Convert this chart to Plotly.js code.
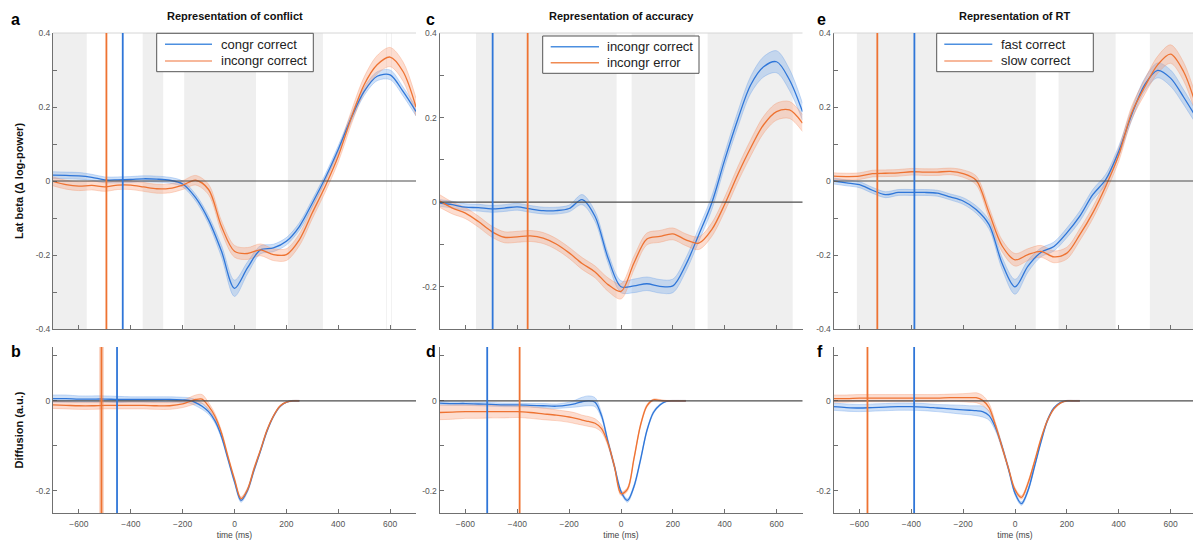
<!DOCTYPE html>
<html>
<head>
<meta charset="utf-8">
<script src="https://cdn.plot.ly/plotly-3.0.1.min.js"></script>
<style>
  html, body { margin: 0; padding: 0; overflow: hidden; background: #fff; }
  #chart { width: 1197px; height: 540px; }
</style>
</head>
<body>
<div id="chart"></div>
<script>
// ---------- time axes (ms, relative to response) ----------
const timeTop = [-700,-650,-600,-550,-500,-450,-400,-350,-300,-250,-200,-150,-100,-50,0,50,100,150,200,250,300,350,400,450,500,550,600,650,700];
const timeBottom = [-700,-650,-600,-550,-500,-450,-400,-350,-300,-250,-200,-175,-150,-125,-100,-75,-50,-25,0,25,50,75,100,125,150,175,200,225,250];

// ---------- a: lateralised beta, conflict ----------
const betaCongrCorrect   = [0.016,0.015,0.014,0.010,0.003,0.003,0.004,0.006,0.005,0.002,-0.008,-0.045,-0.105,-0.19,-0.29,-0.235,-0.186,-0.181,-0.163,-0.123,-0.06,0.008,0.085,0.17,0.242,0.283,0.287,0.242,0.188];
const betaCongrCorrectSe = [0.009,0.009,0.009,0.008,0.008,0.008,0.008,0.008,0.008,0.008,0.008,0.009,0.011,0.016,0.022,0.016,0.011,0.01,0.01,0.01,0.01,0.01,0.01,0.01,0.011,0.012,0.013,0.012,0.012];
const betaIncongrCorrect   = [-0.001,-0.01,-0.014,-0.012,-0.016,-0.011,-0.011,-0.016,-0.021,-0.02,-0.011,0.002,-0.023,-0.123,-0.19,-0.196,-0.186,-0.199,-0.199,-0.159,-0.086,-0.014,0.067,0.17,0.26,0.314,0.335,0.296,0.2];
const betaIncongrCorrectSe = [0.012,0.012,0.012,0.012,0.012,0.012,0.012,0.012,0.012,0.012,0.012,0.013,0.014,0.015,0.016,0.016,0.016,0.016,0.016,0.016,0.016,0.016,0.016,0.018,0.021,0.025,0.026,0.026,0.024];

// ---------- c: lateralised beta, accuracy ----------
const betaAccCorrect   = [-0.002,-0.006,-0.012,-0.013,-0.016,-0.014,-0.011,-0.016,-0.02,-0.02,-0.015,0.006,-0.034,-0.132,-0.2,-0.198,-0.193,-0.199,-0.198,-0.148,-0.077,-0.002,0.1,0.195,0.277,0.32,0.332,0.289,0.214];
const betaAccCorrectSe = [0.008,0.008,0.008,0.008,0.008,0.008,0.008,0.008,0.008,0.008,0.008,0.012,0.012,0.012,0.014,0.016,0.016,0.016,0.016,0.016,0.016,0.016,0.016,0.018,0.02,0.024,0.026,0.025,0.02];
const betaAccError   = [0.003,-0.014,-0.026,-0.046,-0.069,-0.083,-0.082,-0.08,-0.085,-0.099,-0.12,-0.145,-0.165,-0.195,-0.211,-0.144,-0.087,-0.081,-0.075,-0.089,-0.097,-0.065,-0.005,0.065,0.128,0.183,0.214,0.218,0.187];
const betaAccErrorSe = [0.015,0.014,0.013,0.013,0.013,0.013,0.013,0.013,0.013,0.013,0.013,0.014,0.014,0.016,0.018,0.016,0.014,0.014,0.014,0.014,0.015,0.016,0.017,0.018,0.019,0.02,0.02,0.02,0.02];

// ---------- e: lateralised beta, RT ----------
const betaFast   = [0.0,-0.005,-0.01,-0.025,-0.037,-0.031,-0.031,-0.031,-0.033,-0.043,-0.054,-0.077,-0.118,-0.222,-0.286,-0.23,-0.193,-0.177,-0.14,-0.095,-0.037,0.004,0.08,0.179,0.26,0.299,0.278,0.227,0.17];
const betaFastSe = [0.008,0.008,0.008,0.008,0.008,0.008,0.008,0.008,0.008,0.008,0.009,0.01,0.012,0.016,0.02,0.016,0.012,0.012,0.013,0.014,0.014,0.014,0.014,0.015,0.017,0.02,0.022,0.02,0.018];
const betaSlow   = [0.013,0.012,0.013,0.02,0.021,0.022,0.025,0.024,0.024,0.026,0.02,0.002,-0.086,-0.175,-0.213,-0.199,-0.19,-0.205,-0.195,-0.145,-0.086,-0.014,0.07,0.184,0.254,0.314,0.343,0.296,0.2];
const betaSlowSe = [0.009,0.009,0.009,0.009,0.009,0.009,0.009,0.009,0.009,0.009,0.01,0.012,0.014,0.016,0.017,0.016,0.016,0.016,0.016,0.016,0.016,0.016,0.017,0.018,0.02,0.023,0.025,0.025,0.024];

// ---------- b: diffusion, conflict ----------
const diffCongrCorrect   = [0.005,0.005,0.004,0.004,0.004,0.003,0.003,0.003,0.003,0.003,0.002,0.001,-0.004,-0.012,-0.024,-0.045,-0.08,-0.13,-0.18,-0.222,-0.2,-0.155,-0.112,-0.068,-0.035,-0.013,-0.003,0,0];
const diffCongrCorrectSe = [0.008,0.008,0.007,0.007,0.007,0.007,0.006,0.006,0.006,0.006,0.006,0.006,0.007,0.007,0.006,0.005,0.004,0.004,0.004,0.004,0.004,0.004,0.003,0.003,0.002,0.002,0.001,0.001,0.001];
const diffIncongrCorrect   = [-0.009,-0.01,-0.011,-0.011,-0.01,-0.01,-0.01,-0.01,-0.011,-0.011,-0.007,-0.002,0.003,0.004,-0.012,-0.035,-0.072,-0.125,-0.175,-0.218,-0.198,-0.152,-0.11,-0.066,-0.034,-0.012,-0.003,0,0];
const diffIncongrCorrectSe = [0.008,0.008,0.008,0.008,0.008,0.008,0.008,0.008,0.008,0.008,0.008,0.009,0.01,0.01,0.008,0.006,0.005,0.004,0.004,0.004,0.004,0.004,0.003,0.003,0.002,0.002,0.001,0.001,0.001];

// ---------- d: diffusion, accuracy ----------
const diffAccCorrect   = [-0.005,-0.006,-0.006,-0.007,-0.008,-0.009,-0.009,-0.01,-0.011,-0.012,-0.009,-0.006,-0.002,0.0,-0.003,-0.033,-0.092,-0.147,-0.202,-0.222,-0.191,-0.132,-0.066,-0.026,-0.009,-0.001,0,0,0];
const diffAccCorrectSe = [0.004,0.004,0.004,0.004,0.004,0.004,0.004,0.004,0.005,0.005,0.006,0.008,0.01,0.011,0.01,0.006,0.005,0.004,0.004,0.004,0.004,0.004,0.003,0.003,0.002,0.001,0.001,0.001,0.001];
const diffAccError   = [-0.026,-0.025,-0.024,-0.024,-0.024,-0.024,-0.024,-0.026,-0.029,-0.032,-0.036,-0.039,-0.043,-0.046,-0.05,-0.062,-0.095,-0.147,-0.207,-0.197,-0.129,-0.055,-0.011,0.002,0.001,0,0,0,0];
const diffAccErrorSe = [0.016,0.016,0.015,0.015,0.014,0.014,0.013,0.013,0.013,0.012,0.012,0.012,0.011,0.011,0.01,0.008,0.006,0.005,0.004,0.004,0.004,0.003,0.003,0.002,0.002,0.001,0.001,0.001,0.001];

// ---------- f: diffusion, RT ----------
const diffFast   = [-0.013,-0.015,-0.016,-0.015,-0.014,-0.013,-0.013,-0.014,-0.016,-0.018,-0.02,-0.021,-0.022,-0.024,-0.033,-0.06,-0.102,-0.152,-0.206,-0.229,-0.2,-0.147,-0.092,-0.044,-0.016,-0.004,0,0,0];
const diffFastSe = [0.008,0.008,0.008,0.008,0.008,0.008,0.008,0.008,0.008,0.009,0.01,0.01,0.011,0.012,0.01,0.007,0.005,0.004,0.004,0.004,0.004,0.004,0.003,0.003,0.002,0.001,0.001,0.001,0.001];
const diffSlow   = [0.005,0.005,0.006,0.006,0.006,0.006,0.006,0.006,0.006,0.007,0.007,0.007,0.007,0.001,-0.015,-0.055,-0.103,-0.151,-0.198,-0.215,-0.184,-0.136,-0.085,-0.044,-0.018,-0.005,0,0,0];
const diffSlowSe = [0.008,0.008,0.008,0.008,0.008,0.008,0.008,0.008,0.008,0.008,0.009,0.01,0.011,0.011,0.009,0.006,0.005,0.004,0.004,0.004,0.004,0.004,0.003,0.003,0.002,0.001,0.001,0.001,0.001];

// ---------- significant time windows (ms) ----------
const sigConflict = [[-700,-570],[-354,-275],[-194,83],[206,341],[585,588],[604,607]];
const sigAccuracy = [[-559,-17],[41,286],[334,662]];
const sigRT       = [[-610,80],[168,388],[520,700]];

// ---------- mean response-time markers (ms): [blue condition, orange condition] ----------
const markA = [-431, -494];
const markB = [-453, -513];
const markC = [-495, -360];
const markD = [-516, -391];
const markE = [-388, -531];
const markF = [-389, -569];

// ---------- labels ----------
const panelTitles = ['Representation of conflict', 'Representation of accuracy', 'Representation of RT'];
const legendNames = [['congr correct', 'incongr correct'], ['incongr correct', 'incongr error'], ['fast correct', 'slow correct']];
const panelLetters = ['a', 'c', 'e', 'b', 'd', 'f'];
const topTickVals = [-0.4,-0.3,-0.2,-0.1,0,0.1,0.2,0.3,0.4];
const topTickText = ['-0.4','','-0.2','','0','','0.2','','0.4'];
const accTickVals = [-0.3,-0.2,-0.1,0,0.1,0.2,0.3,0.4];
const accTickText = ['','-0.2','','0','','0.2','','0.4'];
const botTickVals = [-0.2,-0.1,0,0.1];
const botTickText = ['-0.2','','0',''];
const timeTickVals = [-600,-400,-200,0,200,400,600];

// ---------- styling ----------
const W = 1197, H = 540;
const FONT = 'Liberation Sans, Arial, Helvetica, sans-serif';
const BLUE = '#2f76d8', ORANGE = '#ee7332';
const BLUE_FILL = 'rgba(96,155,232,0.30)', ORANGE_FILL = 'rgba(248,150,108,0.32)';
const BLUE_EDGE = 'rgba(96,155,232,0.55)', ORANGE_EDGE = 'rgba(245,140,95,0.55)';
const px = v => v / W;
const py = v => 1 - v / H;

const colsPx = [[53, 416], [439.5, 802.5], [833.5, 1196.5]];
const topPx = [33, 329], botPx = [347, 513];

const traces = [];
function bandTraces(t, m, se, n, fill, edge) {
  const up = m.map((v, i) => v + se[i]);
  const lo = m.map((v, i) => v - se[i]);
  const ax = n === 1 ? '' : String(n);
  const line = { color: edge, width: 0.6, shape: 'spline', smoothing: 0.9 };
  traces.push({ x: t, y: up, xaxis: 'x' + ax, yaxis: 'y' + ax, mode: 'lines', line, hoverinfo: 'skip', showlegend: false });
  traces.push({ x: t, y: lo, xaxis: 'x' + ax, yaxis: 'y' + ax, mode: 'lines', line, fill: 'tonexty', fillcolor: fill, hoverinfo: 'skip', showlegend: false });
}
function meanTrace(t, m, n, color, name) {
  const ax = n === 1 ? '' : String(n);
  traces.push({ x: t, y: m, xaxis: 'x' + ax, yaxis: 'y' + ax, mode: 'lines', name,
    line: { color, width: 1.3, shape: 'spline', smoothing: 0.9 }, showlegend: false });
}

const series = [
  [1, timeTop, betaCongrCorrect, betaCongrCorrectSe, betaIncongrCorrect, betaIncongrCorrectSe, legendNames[0]],
  [2, timeTop, betaAccCorrect, betaAccCorrectSe, betaAccError, betaAccErrorSe, legendNames[1]],
  [3, timeTop, betaFast, betaFastSe, betaSlow, betaSlowSe, legendNames[2]],
  [4, timeBottom, diffCongrCorrect, diffCongrCorrectSe, diffIncongrCorrect, diffIncongrCorrectSe, legendNames[0]],
  [5, timeBottom, diffAccCorrect, diffAccCorrectSe, diffAccError, diffAccErrorSe, legendNames[1]],
  [6, timeBottom, diffFast, diffFastSe, diffSlow, diffSlowSe, legendNames[2]],
];
series.forEach(([n, t, mB, sB, mO, sO, names]) => {
  bandTraces(t, mB, sB, n, BLUE_FILL, BLUE_EDGE);
  bandTraces(t, mO, sO, n, ORANGE_FILL, ORANGE_EDGE);
  meanTrace(t, mB, n, BLUE, names[0]);
  meanTrace(t, mO, n, ORANGE, names[1]);
});

// ---------- axes ----------
const layout = {
  width: W, height: H, margin: { l: 0, r: 0, t: 0, b: 0 },
  paper_bgcolor: '#fff', plot_bgcolor: 'rgba(0,0,0,0)',
  font: { family: FONT, color: '#333' },
  showlegend: false, shapes: [], annotations: [],
};
function axisBase() {
  return {
    showline: true, linecolor: '#707070', linewidth: 1, mirror: false,
    ticks: 'inside', ticklen: 4, tickcolor: '#707070', tickwidth: 1,
    tickfont: { size: 8.5, color: '#555', family: FONT },
    showgrid: false, zeroline: false, automargin: false, fixedrange: true,
  };
}
for (let n = 1; n <= 6; n++) {
  const col = (n - 1) % 3, top = n <= 3;
  const ax = n === 1 ? '' : String(n);
  const xa = axisBase(), ya = axisBase();
  xa.domain = [px(colsPx[col][0]), px(colsPx[col][1])];
  xa.range = [-700, 700];
  xa.tickvals = timeTickVals;
  xa.anchor = 'y' + ax;
  xa.showticklabels = !top;
  if (!top) {
    xa.ticklabelstandoff = 3;
    xa.title = { text: 'time (ms)', font: { size: 8.5, color: '#444', family: FONT }, standoff: 6 };
  }
  const vp = top ? topPx : botPx;
  ya.domain = [py(vp[1]), py(vp[0])];
  ya.anchor = 'x' + ax;
  if (top) {
    if (col === 1) { ya.range = [-0.3, 0.4]; ya.tickvals = accTickVals; ya.ticktext = accTickText; }
    else { ya.range = [-0.4, 0.4]; ya.tickvals = topTickVals; ya.ticktext = topTickText; }
  } else {
    ya.range = [-0.25, 0.12]; ya.tickvals = botTickVals; ya.ticktext = botTickText;
  }
  if (n === 1) ya.title = { text: '<b>Lat beta (Δ log-power)</b>', font: { size: 11, color: '#111', family: FONT }, standoff: 9 };
  if (n === 4) ya.title = { text: '<b>Diffusion (a.u.)</b>', font: { size: 11, color: '#111', family: FONT }, standoff: 9 };
  layout['xaxis' + ax] = xa;
  layout['yaxis' + ax] = ya;
}

// ---------- shaded windows, box edge, zero lines, RT markers ----------
[sigConflict, sigAccuracy, sigRT].forEach((wins, i) => {
  const ax = i === 0 ? '' : String(i + 1);
  wins.forEach(([a, b]) => layout.shapes.push({
    type: 'rect', xref: 'x' + ax, yref: 'y' + ax + ' domain', x0: a, x1: b, y0: 0, y1: 1,
    fillcolor: '#efefef', line: { width: 0 }, layer: 'below' }));
  layout.shapes.push({ type: 'line', xref: 'x' + ax + ' domain', yref: 'y' + ax + ' domain',
    x0: 0, x1: 1, y0: 1, y1: 1, line: { color: '#d6d6d6', width: 1 } });
});
for (let n = 1; n <= 6; n++) {
  const ax = n === 1 ? '' : String(n);
  layout.shapes.push({ type: 'line', xref: 'x' + ax + ' domain', yref: 'y' + ax,
    x0: 0, x1: 1, y0: 0, y1: 0, line: { color: '#4d4d4d', width: 1.2 }, layer: 'above' });
}
[markA, markC, markE, markB, markD, markF].forEach((mk, i) => {
  const ax = i === 0 ? '' : String(i + 1);
  if (i === 3) layout.shapes.push({ type: 'line', xref: 'x' + ax, yref: 'y' + ax + ' domain',
    x0: mk[1], x1: mk[1], y0: 0, y1: 1, line: { color: 'rgba(240,130,80,0.3)', width: 5 } });
  layout.shapes.push({ type: 'line', xref: 'x' + ax, yref: 'y' + ax + ' domain',
    x0: mk[0], x1: mk[0], y0: 0, y1: 1, line: { color: BLUE, width: 1.8 } });
  layout.shapes.push({ type: 'line', xref: 'x' + ax, yref: 'y' + ax + ' domain',
    x0: mk[1], x1: mk[1], y0: 0, y1: 1, line: { color: ORANGE, width: 1.8 } });
});

// ---------- legends ----------
const legendBoxes = [
  { box: [156.7, 33.3, 313.3, 71.7], line: [165, 212], rows: [44.3, 61], text: 219, colors: ['#4c8fe0', '#f5a07a'] },
  { box: [542.7, 36, 699, 73.3], line: [550.7, 599], rows: [46.7, 62.7], text: 605, colors: ['#4c8fe0', '#f08a52'] },
  { box: [936.7, 33.3, 1093.3, 71.7], line: [944.3, 992.3], rows: [44.3, 61], text: 999.3, colors: ['#4c8fe0', '#f5a07a'] },
];
legendBoxes.forEach((lg, i) => {
  layout.shapes.push({ type: 'rect', xref: 'paper', yref: 'paper',
    x0: px(lg.box[0]), x1: px(lg.box[2]), y0: py(lg.box[3]), y1: py(lg.box[1]),
    fillcolor: '#fff', line: { color: '#555', width: 1 }, layer: 'above' });
  lg.rows.forEach((ry, k) => {
    layout.shapes.push({ type: 'line', xref: 'paper', yref: 'paper',
      x0: px(lg.line[0]), x1: px(lg.line[1]), y0: py(ry), y1: py(ry),
      line: { color: lg.colors[k], width: 1.6 }, layer: 'above' });
    layout.annotations.push({ xref: 'paper', yref: 'paper', x: px(lg.text), y: py(ry),
      xanchor: 'left', yanchor: 'middle', showarrow: false, text: legendNames[i][k],
      font: { size: 13, color: '#222', family: FONT } });
  });
});

// ---------- titles and panel letters ----------
const titleCenters = [234.7, 621, 1015];
panelTitles.forEach((t, i) => layout.annotations.push({
  xref: 'paper', yref: 'paper', x: px(titleCenters[i]), y: py(16), xanchor: 'center', yanchor: 'middle',
  showarrow: false, text: '<b>' + t + '</b>', font: { size: 11, color: '#111', family: FONT } }));
const letterPos = [[9, 19], [423.5, 19], [815, 19], [9, 351], [423.5, 351], [815, 351]];
panelLetters.forEach((l, i) => layout.annotations.push({
  xref: 'paper', yref: 'paper', x: px(letterPos[i][0]), y: py(letterPos[i][1]), xanchor: 'left', yanchor: 'middle',
  showarrow: false, text: '<b>' + l + '</b>', font: { size: 16, color: '#000', family: FONT } }));

Plotly.newPlot('chart', traces, layout, { staticPlot: true, displayModeBar: false });
</script>
</body>
</html>
